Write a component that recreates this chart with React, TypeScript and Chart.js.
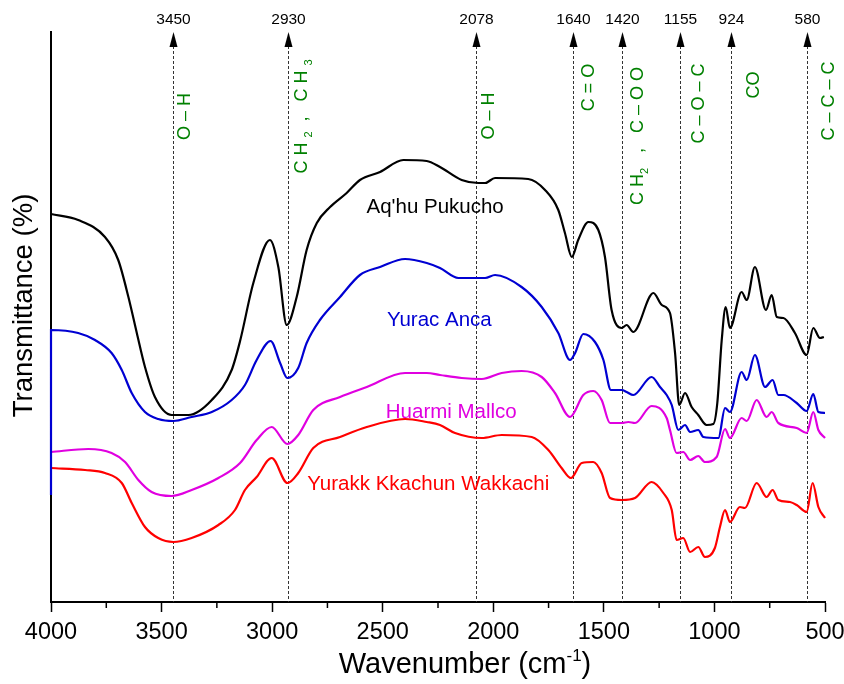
import React, { useEffect, useRef } from "react";
import { Chart, registerables } from "chart.js";

Chart.register(...registerables);

const FONT = '"Liberation Sans", Arial, Helvetica, sans-serif';

// ---------- data ----------
// Aq'hu Pukucho (black)
const aqhuWn = [4000, 3877, 3756, 3696, 3650, 3612, 3575, 3530, 3454, 3379, 3273, 3183, 3145, 3085, 3010, 2972, 2934, 2889, 2844, 2798, 2738, 2663, 2603, 2512, 2407, 2301, 2241, 2143, 2068, 2037, 1992, 1842, 1766, 1706, 1676, 1645, 1616, 1570, 1525, 1495, 1465, 1419, 1397, 1367, 1276, 1238, 1201, 1178, 1159, 1133, 1103, 1073, 1035, 1005, 987, 967, 949, 930, 877, 854, 817, 767, 741, 718, 688, 636, 583, 553, 523, 505];
const aqhuT = [388, 382, 365, 342, 305, 269, 235, 205, 187, 187, 202, 232, 261, 319, 362, 335, 277, 305, 352, 379, 395, 409, 422, 430, 442, 441, 435, 422, 419, 419, 424, 423, 412, 392, 369, 345, 362, 380, 372, 345, 292, 274, 277, 270, 309, 297, 289, 249, 197, 209, 195, 187, 177, 178, 199, 262, 295, 274, 310, 302, 335, 292, 307, 285, 284, 269, 247, 274, 264, 265];

// Yurac Anca (blue)
const yuracWn = [4000, 4000, 3877, 3801, 3726, 3680, 3635, 3575, 3515, 3447, 3364, 3273, 3183, 3123, 3070, 3007, 2964, 2931, 2882, 2844, 2784, 2693, 2603, 2512, 2399, 2301, 2241, 2158, 2037, 1992, 1872, 1781, 1706, 1653, 1630, 1593, 1540, 1502, 1468, 1419, 1397, 1367, 1284, 1246, 1216, 1193, 1163, 1133, 1110, 1073, 1050, 982, 952, 930, 877, 854, 817, 771, 737, 711, 688, 628, 583, 553, 530, 500];
const yuracT = [107, 272, 269, 262, 249, 232, 209, 190, 183, 181, 185, 190, 202, 217, 242, 261, 239, 224, 234, 259, 282, 305, 327, 335, 343, 339, 334, 324, 324, 327, 315, 295, 269, 242, 249, 268, 260, 242, 212, 212, 210, 207, 225, 215, 207, 197, 172, 177, 170, 172, 165, 164, 194, 190, 230, 222, 247, 215, 222, 207, 207, 199, 191, 208, 190, 189];

// Huarmi Mallco (magenta)
const huarmiWn = [4000, 3831, 3726, 3665, 3605, 3545, 3454, 3364, 3243, 3145, 3070, 3002, 2931, 2882, 2814, 2693, 2572, 2399, 2301, 2241, 2143, 2052, 1962, 1872, 1781, 1721, 1653, 1593, 1548, 1510, 1472, 1419, 1389, 1359, 1284, 1216, 1201, 1171, 1141, 1110, 1073, 1043, 990, 952, 930, 877, 854, 809, 764, 741, 711, 628, 583, 553, 530, 500];
const huarmiT = [150, 153, 149, 140, 122, 110, 106, 112, 124, 139, 162, 175, 158, 167, 192, 205, 215, 229, 229, 227, 224, 223, 229, 231, 225, 209, 185, 207, 211, 202, 179, 179, 180, 179, 196, 184, 172, 149, 150, 142, 146, 140, 145, 173, 164, 184, 181, 202, 185, 190, 179, 174, 169, 190, 172, 164];

// Yurakk Kkachun Wakkachi (red)
const yurakkWn = [4000, 3846, 3756, 3680, 3635, 3575, 3515, 3447, 3364, 3243, 3168, 3123, 3070, 3002, 2931, 2882, 2814, 2693, 2572, 2399, 2301, 2241, 2173, 2052, 1962, 1826, 1751, 1691, 1649, 1600, 1548, 1510, 1472, 1419, 1359, 1284, 1231, 1193, 1171, 1141, 1110, 1073, 1043, 998, 975, 952, 930, 885, 862, 809, 764, 737, 711, 658, 628, 583, 556, 530, 500];
const yurakkT = [134, 132, 129, 119, 99, 75, 64, 60, 64, 77, 92, 112, 125, 144, 119, 129, 154, 165, 175, 183, 180, 177, 169, 164, 167, 165, 152, 134, 124, 139, 140, 129, 104, 102, 104, 120, 109, 92, 62, 64, 50, 55, 45, 54, 75, 92, 80, 95, 94, 119, 105, 112, 102, 100, 97, 90, 119, 95, 84];

const seriesNames = ["Aq'hu Pukucho", "Yurac Anca", "Huarmi Mallco", "Yurakk Kkachun Wakkachi"];
const seriesColors = ["#000000", "#0000d2", "#e000e0", "#ff0000"];

// x-axis ticks
const xTickValues = [4000, 3500, 3000, 2500, 2000, 1500, 1000, 500];
const xMinorValues = [3750, 3250, 2750, 2250, 1750, 1250, 750];

// band assignments
const bandWn = [3450, 2930, 2078, 1640, 1420, 1155, 924, 580];
const bandLabels: [string, boolean][][] = [
  [["O – H", false]],
  [["C H ", false], ["2", true], ["  ,   C H ", false], ["3", true]],
  [["O – H", false]],
  [["C = O", false]],
  [["C H", false], ["2", true], ["   ,   C – O O", false]],
  [["C – O – C", false]],
  [["CO", false]],
  [["C – C – C", false]],
];

const xTitleMain = "Wavenumber (cm";
const xTitleSup = "-1";
const xTitleEnd = ")";
const yTitle = "Transmittance (%)";

// ---------- styles / placement ----------
const BAND_STYLE = {
  dx: [11.5, 13.5, 12.5, 15.7, 15.8, 19, 22.7, 21.6],
  cy: [116.5, 116.5, 116, 87.5, 136, 103.5, 85, 101],
  green: "#008000",
};
const NAME_ANCHOR = {
  wn: [2263, 2244, 2190, 2294],
  t: [395, 282, 190, 118],
};

const zip = (xs: number[], ys: number[]) => xs.map((x, i) => ({ x, y: ys[i] }));

const minorTickPlugin = {
  id: "minorTicks",
  afterDraw(chart: any) {
    const { ctx, chartArea, scales } = chart;
    const x = scales.x;
    ctx.save();
    ctx.strokeStyle = "#000";
    ctx.lineWidth = 1.5;
    xMinorValues.forEach((v) => {
      const px = x.getPixelForValue(v);
      ctx.beginPath();
      ctx.moveTo(px, chartArea.bottom);
      ctx.lineTo(px, chartArea.bottom + 6);
      ctx.stroke();
    });
    ctx.restore();
  },
};

const bandPlugin = {
  id: "bands",
  beforeDatasetsDraw(chart: any) {
    const { ctx, chartArea, scales } = chart;
    const x = scales.x;
    ctx.save();
    bandWn.forEach((wn, i) => {
      const px = Math.round(x.getPixelForValue(wn)) + 0.5;
      ctx.strokeStyle = "#333";
      ctx.lineWidth = 1;
      ctx.setLineDash([3, 2]);
      ctx.beginPath();
      ctx.moveTo(px, chartArea.top + 14);
      ctx.lineTo(px, chartArea.bottom);
      ctx.stroke();
      ctx.setLineDash([]);
      ctx.fillStyle = "#000";
      ctx.beginPath();
      ctx.moveTo(px, chartArea.top);
      ctx.lineTo(px - 4, chartArea.top + 15);
      ctx.lineTo(px + 4, chartArea.top + 15);
      ctx.closePath();
      ctx.fill();
      ctx.font = `15.5px ${FONT}`;
      ctx.textAlign = "center";
      ctx.textBaseline = "middle";
      ctx.fillText(String(wn), px, chartArea.top - 12);

      // rotated green label
      const runs = bandLabels[i];
      const mainFont = `18px ${FONT}`;
      const subFont = `11px ${FONT}`;
      const widths = runs.map(([t, s]) => {
        ctx.font = s ? subFont : mainFont;
        return ctx.measureText(t).width;
      });
      const total = widths.reduce((a, b) => a + b, 0);
      ctx.save();
      ctx.translate(px + BAND_STYLE.dx[i], BAND_STYLE.cy[i]);
      ctx.rotate(-Math.PI / 2);
      ctx.fillStyle = BAND_STYLE.green;
      ctx.textAlign = "left";
      ctx.textBaseline = "middle";
      let cur = -total / 2;
      runs.forEach(([t, s], j) => {
        ctx.font = s ? subFont : mainFont;
        ctx.fillText(t, cur, s ? 7 : 0);
        cur += widths[j];
      });
      ctx.restore();
    });
    ctx.restore();
  },
};

const textPlugin = {
  id: "texts",
  afterDraw(chart: any) {
    const { ctx, scales } = chart;
    const x = scales.x;
    const y = scales.y;
    ctx.save();
    // series names
    ctx.font = `20.5px ${FONT}`;
    ctx.textAlign = "center";
    ctx.textBaseline = "middle";
    seriesNames.forEach((n, i) => {
      ctx.fillStyle = seriesColors[i];
      ctx.fillText(n, x.getPixelForValue(NAME_ANCHOR.wn[i]), y.getPixelForValue(NAME_ANCHOR.t[i]));
    });
    // x title with superscript
    ctx.fillStyle = "#000";
    ctx.textAlign = "left";
    ctx.textBaseline = "alphabetic";
    const mainF = `29px ${FONT}`;
    const supF = `17px ${FONT}`;
    ctx.font = mainF;
    const w1 = ctx.measureText(xTitleMain).width;
    const w3 = ctx.measureText(xTitleEnd).width;
    ctx.font = supF;
    const w2 = ctx.measureText(xTitleSup).width;
    const cx = 465;
    const base = 673;
    let sx = cx - (w1 + w2 + w3) / 2;
    ctx.font = mainF;
    ctx.fillText(xTitleMain, sx, base);
    sx += w1;
    ctx.font = supF;
    ctx.fillText(xTitleSup, sx, base - 12);
    sx += w2;
    ctx.font = mainF;
    ctx.fillText(xTitleEnd, sx, base);
    // y title
    ctx.save();
    ctx.translate(24, 305.5);
    ctx.rotate(-Math.PI / 2);
    ctx.font = `27.5px ${FONT}`;
    ctx.textAlign = "center";
    ctx.textBaseline = "middle";
    ctx.fillText(yTitle, 0, 0);
    ctx.restore();
    ctx.restore();
  },
};

export default function App() {
  const ref = useRef<HTMLCanvasElement>(null);
  useEffect(() => {
    const canvas = ref.current;
    if (!canvas) return;
    Chart.defaults.font.family = FONT;
    const series = [
      zip(aqhuWn, aqhuT),
      zip(yuracWn, yuracT),
      zip(huarmiWn, huarmiT),
      zip(yurakkWn, yurakkT),
    ];
    const chart = new Chart(canvas, {
      type: "line",
      data: {
        datasets: series.map((d, i) => ({
          label: seriesNames[i],
          data: d,
          borderColor: seriesColors[i],
          backgroundColor: seriesColors[i],
          borderWidth: 2.2,
          pointRadius: 0,
          pointHoverRadius: 0,
          cubicInterpolationMode: "monotone" as const,
          fill: false,
          clip: false as any,
        })),
      },
      options: {
        animation: false,
        responsive: false,
        devicePixelRatio: 1,
        events: [],
        layout: { padding: { top: 32, right: 19, left: 0, bottom: 0 } },
        plugins: {
          legend: { display: false },
          tooltip: { enabled: false },
          title: { display: false },
        },
        scales: {
          x: {
            type: "linear",
            reverse: true,
            min: 500,
            max: 4000,
            afterBuildTicks: (s: any) => {
              s.ticks = xTickValues.map((v) => ({ value: v }));
            },
            afterFit: (s: any) => {
              s.height = 82;
              s.paddingLeft = 0;
              s.paddingRight = 0;
            },
            ticks: {
              callback: (v: any) => String(v),
              font: { size: 23.5, family: FONT },
              color: "#000",
              padding: 6,
              maxRotation: 0,
              minRotation: 0,
              autoSkip: false,
            },
            grid: {
              drawOnChartArea: false,
              drawTicks: true,
              tickLength: 10,
              tickWidth: 1.5,
              tickColor: "#000",
            },
            border: { display: true, color: "#000", width: 2 },
          },
          y: {
            type: "linear",
            min: 0,
            max: 570,
            afterFit: (s: any) => {
              s.width = 51;
              s.paddingTop = 0;
              s.paddingBottom = 0;
            },
            ticks: { display: false },
            grid: { display: false, drawTicks: false },
            border: { display: true, color: "#000", width: 2 },
          },
        },
      },
      plugins: [bandPlugin, minorTickPlugin, textPlugin],
    } as any);
    return () => chart.destroy();
  }, []);
  return (
    <div style={{ position: "absolute", left: 0, top: 0, width: 844, height: 684, background: "#fff" }}>
      <canvas ref={ref} width={844} height={684} style={{ display: "block", width: 844, height: 684 }} />
    </div>
  );
}
